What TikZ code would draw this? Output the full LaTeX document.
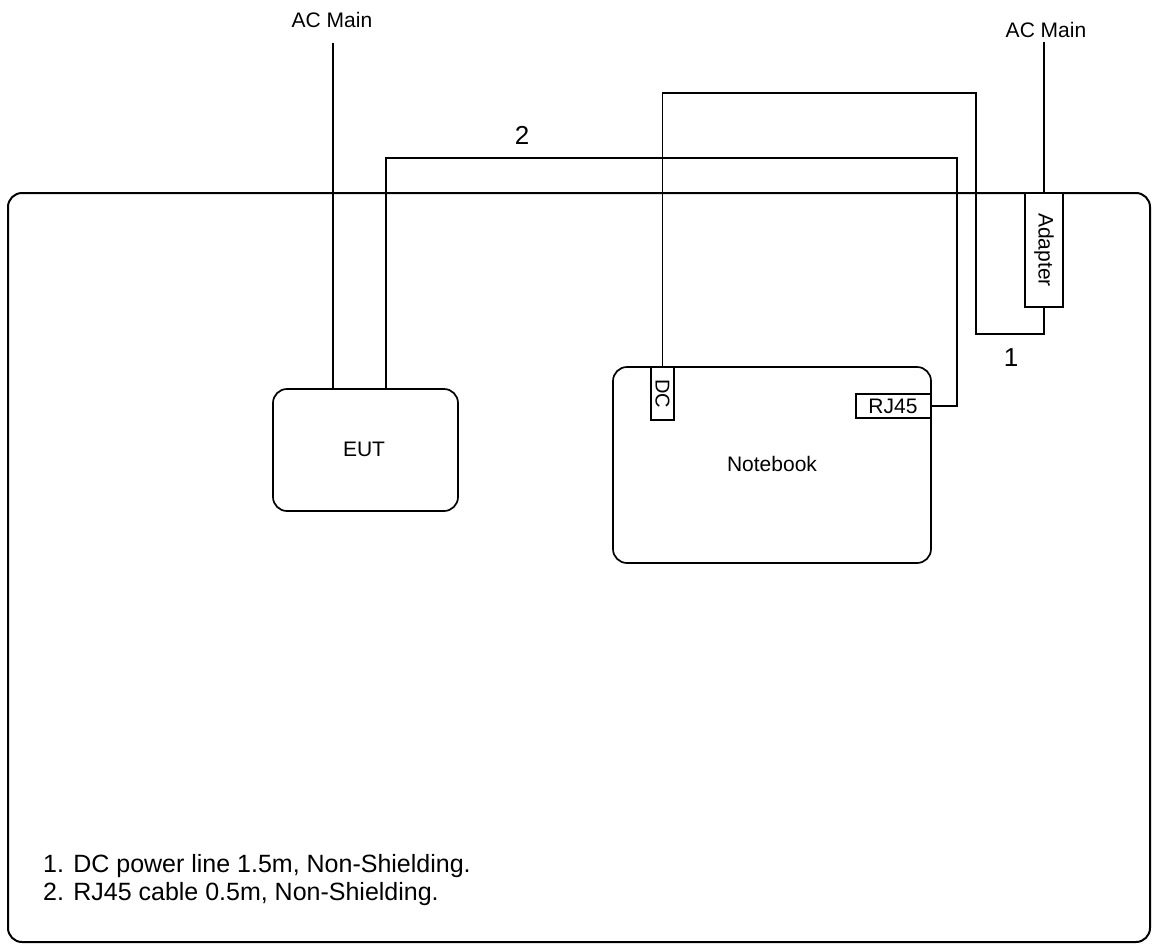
\documentclass[tikz,border=0pt]{standalone}
\usepackage{fontspec}
\setmainfont{Liberation Sans}
\begin{document}
\begin{tikzpicture}[x=1pt,y=-1pt,
  wire/.style={line width=1.6pt, line join=miter},
  rbox/.style={draw, line width=1.7pt, rounded corners=14pt, inner sep=0pt},
  port/.style={draw, line width=1.6pt, inner sep=0pt, fill=white},
  lbl/.style={inner sep=0pt, font=\fontsize{21}{24}\selectfont},
  num/.style={inner sep=0pt, font=\fontsize{26}{30}\selectfont}]
\useasboundingbox (0,0) rectangle (1157,945);
% outer table
\node (outer) [rbox, line width=2pt, minimum width=1142pt, minimum height=749pt] at (579,567.5) {};
% devices
\node (eut) [rbox, minimum width=185pt, minimum height=122pt] at (365.5,450) {};
\node (eutl) [lbl] at (364,449) {EUT};
\node (nb) [rbox, minimum width=318pt, minimum height=196pt] at (772,465) {};
\node (nbl) [lbl] at (772,464) {Notebook};
\node (dc) [port, minimum width=23pt, minimum height=53pt] at (662.5,393.5) {};
\node (dcl) [lbl, rotate=-90, font=\fontsize{20}{22}\selectfont] at (662.5,393.5) {DC};
\node (rj) [port, minimum width=75pt, minimum height=24pt] at (893.5,406) {};
\node (rjl) [lbl] at (893,406) {RJ45};
\node (ad) [port, minimum width=38pt, minimum height=114pt] at (1044,250) {};
\node (adl) [lbl, rotate=-90] at (1044,250) {Adapter};
% AC main labels
\node (acL) [lbl] at (332,20) {AC Main};
\node (acR) [lbl] at (1046,30) {AC Main};
\coordinate (acLtop) at (333,43);
\coordinate (acRtop) at (1044,42);
% cable bends
\coordinate (c2a) at (386,158);
\coordinate (c2b) at (957,158);
\coordinate (c1a) at (662.5,93);
\coordinate (c1b) at (976,93);
\coordinate (c1c) at (976,334);
% connectors
\draw[wire] (acLtop) -- (acLtop |- eut.north);
\draw[wire] (acRtop) -- (acRtop |- ad.north);
\draw[wire] (c2a |- eut.north) -- (c2a) -- (c2b) |- (rj.east);
\draw[wire] (dc.north) -- (c1a) -- (c1b) -- (c1c) -| (ad.south);
% cable numbers
\node (n1) [num] at (1011,358) {1};
\node (n2) [num] at (522,135) {2};
% legend
\node (legend) [inner sep=0pt, anchor=west, align=left, font=\fontsize{25}{28}\selectfont] at (43,880) {1. DC power line 1.5m, Non-Shielding.\\2. RJ45 cable 0.5m, Non-Shielding.};
\end{tikzpicture}
\end{document}
